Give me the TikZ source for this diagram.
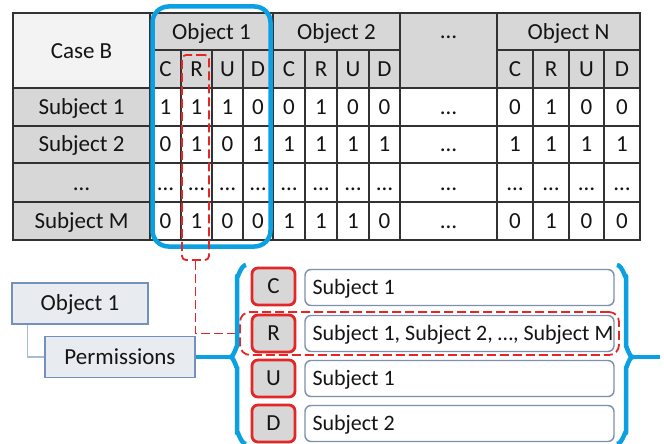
\documentclass[tikz,border=0pt]{standalone}
\usepackage{fontspec}
\setmainfont{Carlito}
\definecolor{bluebox}{RGB}{10,160,225}
\definecolor{redl}{RGB}{228,38,38}
\definecolor{hdr}{RGB}{215,215,215}
\definecolor{casebc}{RGB}{243,243,243}
\definecolor{gridc}{RGB}{50,50,50}
\definecolor{steel}{RGB}{115,145,185}
\definecolor{lboxfill}{RGB}{232,235,240}
\definecolor{subjb}{RGB}{125,145,172}
\definecolor{conn}{RGB}{165,188,215}
\definecolor{txt}{RGB}{20,20,20}
\begin{document}
\begin{tikzpicture}[x=1pt,y=-1pt,
  cell/.style={inner sep=0pt,text height=14pt,text depth=0pt,text=txt,font=\fontsize{23}{27}\selectfont},
  gridline/.style={draw=gridc,line width=1.4pt},
  leftbox/.style={draw=steel,fill=lboxfill,line width=1.4pt,inner sep=0pt,minimum height=41pt},
  crudbox/.style={draw=redl,fill=hdr,line width=2.8pt,rounded corners=6pt,minimum width=43pt,minimum height=37pt,inner sep=0pt},
  subjbox/.style={draw=subjb,fill=white,line width=1.4pt,rounded corners=6pt,minimum width=309pt,minimum height=36pt,inner sep=0pt},
  subjtxt/.style={cell,anchor=west,font=\fontsize{22}{26}\selectfont},
  reddash/.style={draw=redl,line width=1.8pt,dash pattern=on 9pt off 4pt},
  bluethick/.style={draw=bluebox,line width=4.5pt}]
\useasboundingbox (0,0) rectangle (664,444);
\fill[white] (0,0) rectangle (664,444);
% table fills
\fill[casebc] (13,13) rectangle (150,88);
\fill[hdr] (150,13) rectangle (640,88);
\fill[hdr] (13,88) rectangle (150,240);
% grid
\foreach \yy in {88,126,163,202} \draw[gridline] (13,\yy) -- (640,\yy);
\draw[gridline] (150,50) -- (400,50);
\draw[gridline] (497,50) -- (640,50);
\foreach \xx in {150,273,400,497} \draw[gridline] (\xx,13) -- (\xx,240);
\foreach \xx in {181,212,243,305,337,369,533,569,604} \draw[gridline] (\xx,50) -- (\xx,240);
\draw[gridline] (13,13) rectangle (640,240);
% headers
\node[cell] (caseb) at (81.5,52) {Case B};
\node[cell] (hobj1) at (211.5,33) {Object 1};
\node[cell] (hobj2) at (336.5,33) {Object 2};
\node[cell] (hobjd) at (448.5,32) {…};
\node[cell] (hobjn) at (568.5,33) {Object N};
\def\colx{{165.5,196.5,227.5,258,289,321,353,384.5,448.5,515,551,586.5,622}}
\foreach \v [count=\c] in {C,R,U,D,C,R,U,D,,C,R,U,D}{
  \pgfmathsetmacro\xx{\colx[\c-1]}
  \node[cell] (h-\c) at (\xx,69.5) {\v};
}
\foreach \yc/\r/\lab/\vals in {107/1/Subject 1/{1,1,1,0,0,1,0,0,…,0,1,0,0},
  144.5/2/Subject 2/{0,1,0,1,1,1,1,1,…,1,1,1,1},
  183/3/…/{…,…,…,…,…,…,…,…,…,…,…,…,…},
  221/4/Subject M/{0,1,0,0,1,1,1,0,…,0,1,0,0}}{
  \node[cell] (s-\r) at (81.5,\yc) {\lab};
  \foreach \v [count=\c] in \vals {
    \pgfmathsetmacro\xx{\colx[\c-1]}
    \node[cell] (d-\r-\c) at (\xx,\yc) {\v};
  }
}
% blue highlight of object 1
\draw[bluebox,line width=4.5pt,rounded corners=16pt] (152.5,6.5) rectangle (270.5,246.5);
% red dashed R column
\node[reddash,rounded corners=4pt,minimum width=27pt,minimum height=205pt,inner sep=0pt] (rcol) at (195.5,157.5) {};
% bottom section
\node[leftbox,minimum width=136pt] (o1) at (80,303.5) {};
\node[cell] (o1t) at (o1.center) {Object 1};
\node[leftbox,minimum width=150pt] (perm) at (120,357) {};
\node[cell] (permt) at (perm.center) {Permissions};
\draw[conn,line width=1.5pt] ([xshift=16pt]o1.south west) |- (perm.west);
% crud boxes
\foreach \n/\yc in {C/286.5,R/333.5,U/378.5,D/423.5}{
  \node[crudbox] (b\n) at (273.5,\yc) {};
  \node[cell] (b\n t) at (b\n.center) {\n};
}
\node[subjbox] (sC) at (459.5,287.5) {};
\node[subjbox] (sR) at (459.5,333.5) {};
\node[subjbox] (sU) at (459.5,378.5) {};
\node[subjbox] (sD) at (459.5,423.5) {};
\node[subjtxt] (sCt) at ([xshift=8pt]sC.west) {Subject 1};
\node[subjtxt] (sRt) at ([xshift=8pt]sR.west) {Subject 1, Subject 2, …, Subject M};
\node[subjtxt] (sUt) at ([xshift=8pt]sU.west) {Subject 1};
\node[subjtxt] (sDt) at ([xshift=8pt]sD.west) {Subject 2};
% red dashed R row
\node[reddash,rounded corners=10pt,minimum width=379pt,minimum height=43pt,inner sep=0pt] (rrow) at (429.5,333.5) {};
\draw[redl,line width=1.8pt,dash pattern=on 9pt off 4pt] (rcol.south) |- (rrow.west);
% braces
\coordinate (ltip) at (230,357);
\coordinate (rtip) at (633,357);
\coordinate (rend) at (660,357);
\draw[bluethick] (perm.east) -- (ltip);
\draw[bluethick,line join=round] (246,265) to[out=180,in=-90] (237,276) -- (237,347) to[out=90,in=0] (ltip)
  to[out=0,in=-90] (237,367) -- (237,433) to[out=90,in=180] (246,444);
\draw[bluethick,line join=round] (617,265) to[out=0,in=-90] (626,276) -- (626,347) to[out=90,in=180] (rtip)
  to[out=180,in=-90] (626,367) -- (626,433) to[out=90,in=0] (617,444);
\draw[bluethick] (rtip) -- (rend);
\end{tikzpicture}
\end{document}
